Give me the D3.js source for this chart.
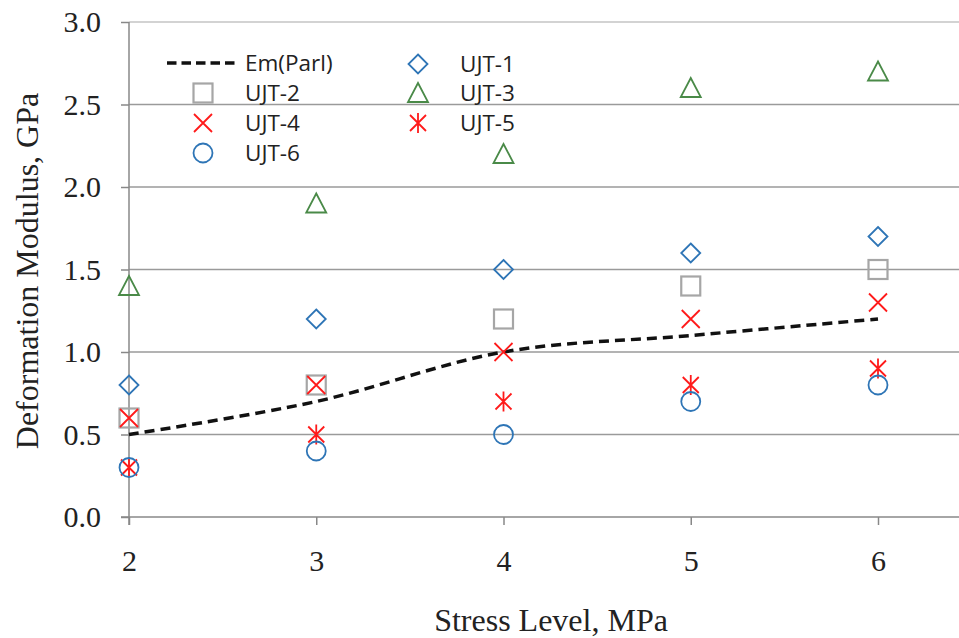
<!DOCTYPE html>
<html>
<head>
<meta charset="utf-8">
<script src="https://d3js.org/d3.v7.min.js"></script>
<style>
  body { margin: 0; background: #fff; }
  svg { display: block; }
</style>
</head>
<body>
<svg id="svg" width="959" height="638"></svg>
<script>
// stress levels (MPa)
var stress = [2, 3, 4, 5, 6];
// deformation modulus (GPa) per test
var emParl = [0.5, 0.7, 1.0, 1.1, 1.2];
var ujt1 = [0.8, 1.2, 1.5, 1.6, 1.7];
var ujt2 = [0.6, 0.8, 1.2, 1.4, 1.5];
var ujt3 = [1.4, 1.9, 2.2, 2.6, 2.7];
var ujt4 = [0.6, 0.8, 1.0, 1.2, 1.3];
var ujt5 = [0.3, 0.5, 0.7, 0.8, 0.9];
var ujt6 = [0.3, 0.4, 0.5, 0.7, 0.8];
var yTicks = [0, 0.5, 1.0, 1.5, 2.0, 2.5, 3.0];

var svg = d3.select("svg");
var plotLeft = 129, plotTop = 22, plotBottom = 517, plotRight = 959;

var x = d3.scaleLinear().domain([2, 6]).range([plotLeft, 878]);
var y = d3.scaleLinear().domain([0, 3]).range([plotBottom, plotTop]);

// gridlines
svg.append("g").selectAll("line")
  .data(yTicks.slice(1))
  .enter().append("line")
  .attr("x1", plotLeft).attr("x2", plotRight)
  .attr("y1", d => y(d)).attr("y2", d => y(d))
  .attr("stroke", d => d == 3 ? "#c4c4c4" : "#9a9a9a")
  .attr("stroke-width", 1.5);

// axes (excel style)
var yAxis = d3.axisLeft(y).tickValues(yTicks).tickSize(8).tickFormat(d3.format(".1f"));
var gy = svg.append("g").attr("transform", "translate(" + plotLeft + ",0)").call(yAxis);
gy.select(".domain").remove();
gy.selectAll(".tick line").attr("stroke", "#888").attr("stroke-width", 1.5);
gy.selectAll(".tick text").attr("x", -28).attr("font-family", "Liberation Serif")
  .attr("font-size", 30).attr("fill", "#222");

svg.append("line").attr("x1", plotLeft).attr("x2", plotLeft).attr("y1", plotTop).attr("y2", plotBottom + 8)
  .attr("stroke", "#888").attr("stroke-width", 1.5);
svg.append("line").attr("x1", plotLeft - 8).attr("x2", plotRight).attr("y1", plotBottom).attr("y2", plotBottom)
  .attr("stroke", "#888").attr("stroke-width", 1.5);

var xAxis = d3.axisBottom(x).tickValues(stress).tickSize(8).tickFormat(d3.format("d"));
var gx = svg.append("g").attr("transform", "translate(0," + plotBottom + ")").call(xAxis);
gx.select(".domain").remove();
gx.selectAll(".tick line").attr("stroke", "#888").attr("stroke-width", 1.5);
gx.selectAll(".tick text").attr("y", 33).attr("font-family", "Liberation Serif")
  .attr("font-size", 30).attr("fill", "#222");

// axis titles
svg.append("text").attr("x", 551).attr("y", 631).attr("text-anchor", "middle")
  .attr("font-family", "Liberation Serif").attr("font-size", 32).attr("fill", "#222")
  .text("Stress Level, MPa");
svg.append("text").attr("transform", "translate(38,271) rotate(-90)").attr("text-anchor", "middle")
  .attr("font-family", "Liberation Serif").attr("font-size", 32).attr("fill", "#222")
  .text("Deformation Modulus, GPa");

// marker shapes
var blue = "#2e75b6", gray = "#a6a6a6", green = "#4a8a48", red = "#ff1a1a";
function marker(g, type, color) {
  var s = 9.5;
  if (type == "diamond") {
    g.append("path").attr("d", "M0,-" + s + "L" + s + ",0L0," + s + "L-" + s + ",0Z");
  } else if (type == "square") {
    g.append("rect").attr("x", -s).attr("y", -s).attr("width", 2 * s).attr("height", 2 * s);
  } else if (type == "triangle") {
    g.append("path").attr("d", "M0,-10L10,9L-10,9Z");
  } else if (type == "x") {
    g.append("path").attr("d", "M-9,-9L9,9M-9,9L9,-9");
  } else if (type == "star") {
    g.append("path").attr("d", "M-8,-8L8,8M-8,8L8,-8M0,-10L0,10");
  } else if (type == "circle") {
    g.append("circle").attr("r", 9.5);
  }
  g.selectAll("*").attr("fill", "none").attr("stroke", color)
    .attr("stroke-width", type == "square" ? 2.2 : 1.8);
}

var series = [
  {name: "UJT-1", vals: ujt1, type: "diamond", color: blue},
  {name: "UJT-2", vals: ujt2, type: "square", color: gray},
  {name: "UJT-3", vals: ujt3, type: "triangle", color: green},
  {name: "UJT-4", vals: ujt4, type: "x", color: red},
  {name: "UJT-5", vals: ujt5, type: "star", color: red},
  {name: "UJT-6", vals: ujt6, type: "circle", color: blue}
];

// smoothed Em(Parl) line
var line = d3.line().x((d, i) => x(stress[i])).y(d => y(d)).curve(d3.curveCatmullRom.alpha(0));
svg.append("path").attr("d", line(emParl)).attr("fill", "none")
  .attr("stroke", "#111").attr("stroke-width", 3.5).attr("stroke-dasharray", "10,6");

// draw order: square under x
var order = [1, 0, 2, 3, 4, 5];
order.forEach(function(k) {
  var s = series[k];
  s.vals.forEach(function(v, i) {
    var g = svg.append("g").attr("transform", "translate(" + x(stress[i]) + "," + y(v) + ")");
    marker(g, s.type, s.color);
  });
});

// legend
var lg = svg.append("g");
lg.append("line").attr("x1", 167).attr("x2", 238).attr("y1", 63).attr("y2", 63)
  .attr("stroke", "#111").attr("stroke-width", 3.5).attr("stroke-dasharray", "9.5,5");
lg.append("text").attr("x", 245).attr("y", 71).text("Em(Parl)");
var legPos = [
  [418, 64], [203, 93], [418, 93], [203, 123], [418, 123], [203, 153]
];
series.forEach(function(s, k) {
  var g = lg.append("g").attr("transform", "translate(" + legPos[k][0] + "," + legPos[k][1] + ")");
  marker(g, s.type, s.color);
  lg.append("text").attr("x", k % 2 == 0 ? 460 : 245).attr("y", legPos[k][1] + 8).text(s.name);
});
lg.selectAll("text").attr("font-family", "Open Sans").attr("font-size", 22.5).attr("fill", "#222");
</script>
</body>
</html>
